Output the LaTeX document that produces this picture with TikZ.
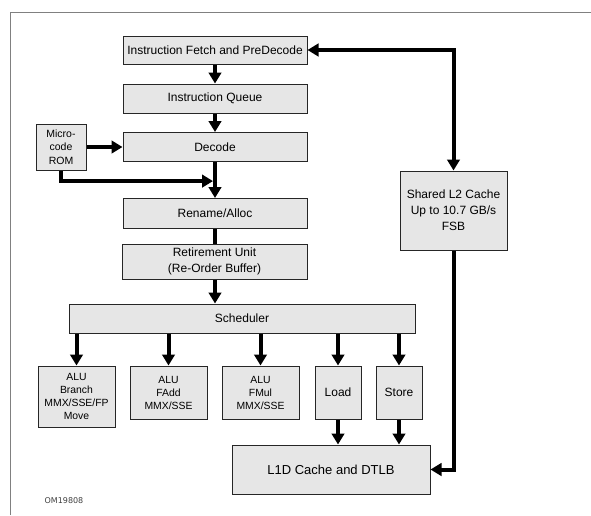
\documentclass[tikz,border=0pt]{standalone}
\usepackage{fontspec}
\setmainfont{Liberation Sans}
\newfontfamily\omfont{DejaVu Sans}
\usetikzlibrary{arrows.meta,calc}
\definecolor{boxfill}{HTML}{E6E6E6}
\begin{document}
\begin{tikzpicture}[x=1pt,y=-1pt,
  blk/.style={draw=black!85,line width=1pt,fill=boxfill,inner sep=0pt,align=center,
    font=\fontsize{12}{16}\selectfont},
  unitbox/.style={blk,font=\fontsize{10.4}{13}\selectfont},
  arr/.style={line width=4pt,-{Triangle[width=12.5pt,length=11pt]}},
  biarr/.style={line width=4pt,{Triangle[width=12.5pt,length=11pt]}-{Triangle[width=12.5pt,length=11pt]}},
  plain/.style={line width=4pt}]
\useasboundingbox (0,0) rectangle (591,515);
\fill[white] (0,0) rectangle (591,515);
\draw[gray,line width=1pt] (10,515) -- (10,12) -- (591,12);

\node[blk,minimum width=184pt,minimum height=28pt] (fetch) at (215,50) {Instruction Fetch and PreDecode};
\node[blk,minimum width=184pt,minimum height=29pt] (queue) at (215,98.5) {Instruction Queue};
\node[blk,minimum width=184pt,minimum height=29pt] (decode) at (215,147) {Decode};
\node[blk,minimum width=50pt,minimum height=46pt,font=\fontsize{10.5}{13.5}\selectfont] (rom) at (61,147) {Micro-\\code\\ROM};
\node[blk,minimum width=184pt,minimum height=30pt] (rename) at (215,213.5) {Rename/Alloc};
\node[blk,minimum width=185pt,minimum height=35pt] (retire) at (214.5,261.5) {Retirement Unit\\(Re-Order Buffer)};
\node[blk,minimum width=346pt,minimum height=29pt] (sched) at (242,318.5) {Scheduler};
\node[unitbox,minimum width=77pt,minimum height=61pt] (alu1) at (76.5,396.5) {ALU\\Branch\\MMX/SSE/FP\\Move};
\node[unitbox,minimum width=77pt,minimum height=53pt] (alu2) at (168.5,392.5) {ALU\\FAdd\\MMX/SSE};
\node[unitbox,minimum width=77pt,minimum height=53pt] (alu3) at (260.5,392.5) {ALU\\FMul\\MMX/SSE};
\node[blk,minimum width=46pt,minimum height=53pt] (load) at (338,392.5) {Load};
\node[blk,minimum width=46pt,minimum height=53pt] (store) at (399,392.5) {Store};
\node[blk,minimum width=198pt,minimum height=49pt,font=\fontsize{13}{16}\selectfont] (l1d) at (331,469.5) {L1D Cache and DTLB};
\node[blk,minimum width=107pt,minimum height=79pt] (l2) at (453.5,210.5) {Shared L2 Cache\\Up to 10.7 GB/s\\FSB};
\node[font=\omfont\fontsize{8}{10}\selectfont,text=black!75,inner sep=0pt] (om) at (64,501) {OM19808};

\draw[arr] (fetch) -- (queue);
\draw[arr] (queue) -- (decode);
\draw[arr] (rom) -- (decode);
\draw[arr] (decode.south -| 215,0) -- (rename.north -| 215,0);
\coordinate (join) at ($(decode.south)!0.53!(rename.north)$);
\draw[arr,shorten >=2pt] (rom.south) |- (join);
\draw[plain] (rename.south -| 215,0) -- (retire.north -| 215,0);
\draw[arr] (retire.south -| 215,0) -- (sched.north -| 215,0);
\draw[arr] (sched.south -| alu1) -- (alu1);
\draw[arr] (sched.south -| alu2) -- (alu2);
\draw[arr] (sched.south -| alu3) -- (alu3);
\draw[arr] (sched.south -| load) -- (load);
\draw[arr] (sched.south -| store) -- (store);
\draw[arr] (load) -- (load |- l1d.north);
\draw[arr] (store) -- (store |- l1d.north);
\draw[biarr] (fetch.east) -| (l2.north);
\draw[arr] (l2.south) |- (l1d.east);
\end{tikzpicture}
\end{document}
